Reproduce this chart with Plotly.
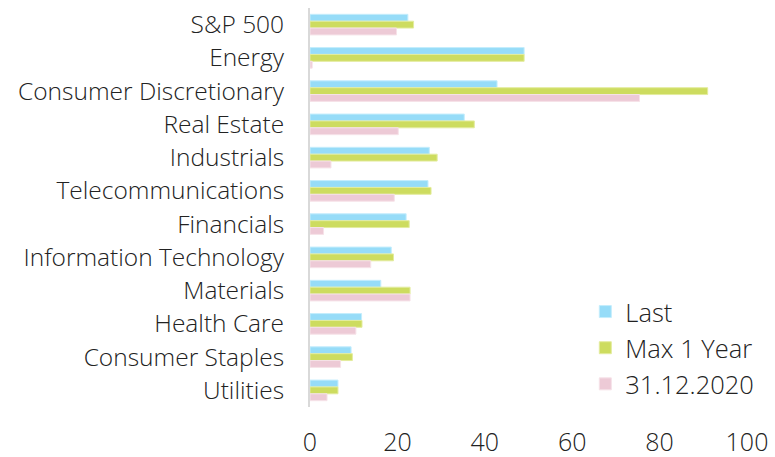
import plotly.graph_objects as go

categories = ["S&P 500", "Energy", "Consumer Discretionary", "Real Estate", "Industrials",
              "Telecommunications", "Financials", "Information Technology", "Materials",
              "Health Care", "Consumer Staples", "Utilities"]
last = [22.4, 49.0, 42.8, 35.3, 27.3, 27.0, 22.0, 18.6, 16.2, 11.8, 9.4, 6.4]
max_1y = [23.7, 49.0, 91.0, 37.6, 29.1, 27.7, 22.7, 19.1, 22.9, 11.9, 9.7, 6.4]
end_2020 = [19.8, 0.5, 75.4, 20.2, 4.8, 19.3, 3.1, 13.9, 22.9, 10.5, 7.0, 3.9]
x_ticks = [0, 20, 40, 60, 80, 100]

FONT = "Open Sans"
TXT = "#222222"

fig = go.Figure()
series = [("Last", last, "#96DCF8", "#C4EDFC"),
          ("Max 1 Year", max_1y, "#CDDC5F", "#E3EC9E"),
          ("31.12.2020", end_2020, "#EDCAD6", "#F6E2E8")]
for name, vals, col, edge in series:
    fig.add_trace(go.Bar(y=categories, x=vals, name=name, orientation="h",
                         marker=dict(color=col, line=dict(color=edge, width=1))))

fig.update_layout(
    width=775, height=457,
    margin=dict(l=310, r=28, t=8, b=50),
    paper_bgcolor="white", plot_bgcolor="white",
    barmode="group", bargap=0.38, bargroupgap=0,
    font=dict(family=FONT, color=TXT, size=24, weight=300),
    legend=dict(x=0.63, y=0.297, xanchor="left", yanchor="top",
                font=dict(size=25.5, family=FONT, color=TXT, weight=300),
                bgcolor="rgba(0,0,0,0)", itemwidth=30, tracegroupgap=0),
    xaxis=dict(range=[0, 100], tickvals=x_ticks, showgrid=False, zeroline=False,
               showline=False, ticks="", ticklabelstandoff=18, automargin=False,
               tickfont=dict(size=25, family=FONT, color=TXT, weight=300)),
    yaxis=dict(autorange="reversed", showgrid=False, zeroline=False,
               showline=True, linecolor="#D9D9D9", linewidth=2, ticks="",
               ticklabelstandoff=19, automargin=False,
               tickfont=dict(size=24.5, family=FONT, color=TXT, weight=300)),
)

fig.write_html("out.html", config={"displayModeBar": False},
               post_script="document.body.style.margin='0px';")
